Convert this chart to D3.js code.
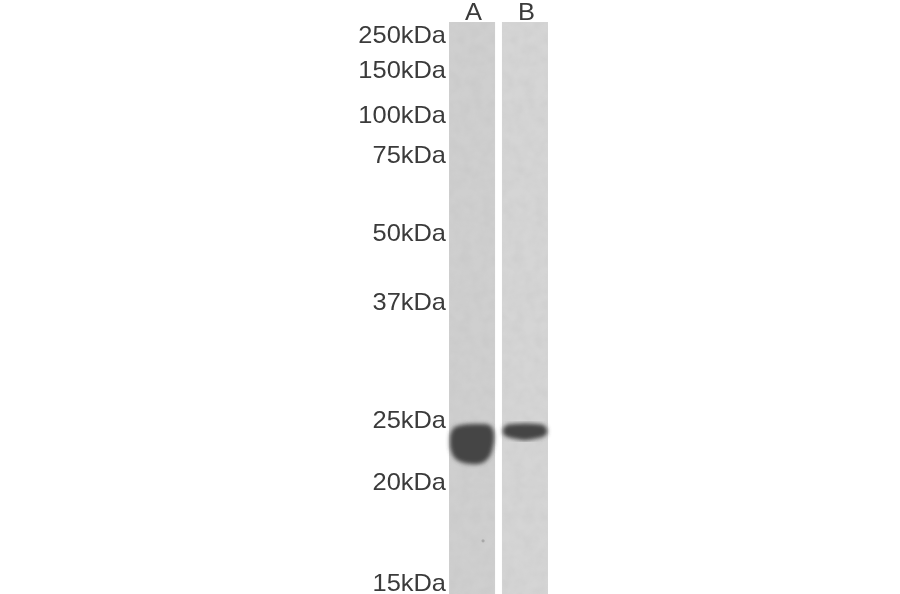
<!DOCTYPE html>
<html>
<head>
<meta charset="utf-8">
<script src="https://cdn.jsdelivr.net/npm/d3@7"></script>
<style>
  html, body { margin: 0; padding: 0; background: #fff; }
  svg { display: block; }
  text { font-family: "Liberation Sans", Arial, sans-serif; fill: #3a3a3a; }
</style>
</head>
<body>
<div id="chart"></div>
<script>
const lanes = ['A', 'B'];
const markerLabels = ['250kDa', '150kDa', '100kDa', '75kDa', '50kDa', '37kDa', '25kDa', '20kDa', '15kDa'];
// migration, 0 = top of gel, 1 = bottom of picture
const markerMigration = [0.023, 0.084, 0.162, 0.232, 0.369, 0.489, 0.696, 0.804, 0.981];

// band outlines: position across the lane, upper and lower migration edge
const bandAcross = [0.02, 0.1, 0.25, 0.5, 0.75, 0.9, 0.98];
const bandATop = [0.724, 0.71, 0.705, 0.703, 0.703, 0.706, 0.718];
const bandABottom = [0.742, 0.76, 0.769, 0.773, 0.77, 0.757, 0.732];
const bandBTop = [0.711, 0.705, 0.703, 0.702, 0.703, 0.705, 0.711];
const bandBBottom = [0.72, 0.725, 0.728, 0.731, 0.728, 0.725, 0.72];

const width = 900;
const height = 594;

const svg = d3.select('#chart').append('svg')
  .attr('width', width)
  .attr('height', height);

const defs = svg.append('defs');
defs.append('filter').attr('id', 'soft').append('feGaussianBlur').attr('stdDeviation', 2.2);
defs.append('filter').attr('id', 'edge').append('feGaussianBlur').attr('stdDeviation', 0.5);
defs.append('filter').attr('id', 'textsoft').append('feGaussianBlur').attr('stdDeviation', 0.4);

// mottled gel background
const grain = defs.append('filter').attr('id', 'grain')
  .attr('x', 0).attr('y', 0).attr('width', 1).attr('height', 1);
grain.append('feTurbulence')
  .attr('type', 'fractalNoise')
  .attr('baseFrequency', 0.09)
  .attr('numOctaves', 2)
  .attr('seed', 4);
grain.append('feColorMatrix')
  .attr('values', '0 0 0 0 0.45  0 0 0 0 0.45  0 0 0 0 0.45  0.3 0 0 0 -0.09');
grain.append('feComposite').attr('in2', 'SourceGraphic').attr('operator', 'in');

const x = d3.scaleBand().domain(lanes).range([449, 548]).paddingInner(0.13).paddingOuter(0);
const y = d3.scaleLinear().domain([0, 1]).range([22, 594]);
const across = d3.scaleLinear().domain([0, 1]).range([0, x.bandwidth()]);

const laneColor = { A: '#cfcfcf', B: '#d5d5d5' };

const laneG = svg.append('g').selectAll('g').data(lanes).join('g')
  .attr('transform', d => `translate(${x(d)},0)`);

laneG.append('rect')
  .attr('x', 0)
  .attr('y', y(0))
  .attr('width', x.bandwidth())
  .attr('height', y(1) - y(0) + 4)
  .attr('fill', d => laneColor[d])
  .attr('filter', 'url(#edge)');

laneG.append('rect')
  .attr('x', 0.5)
  .attr('y', y(0) + 0.5)
  .attr('width', x.bandwidth() - 1)
  .attr('height', y(1) - y(0))
  .attr('fill', '#000')
  .attr('filter', 'url(#grain)');

const bandArea = d3.area()
  .x(d => across(d.at))
  .y0(d => y(d.top))
  .y1(d => y(d.bottom))
  .curve(d3.curveCatmullRom);

const bands = {
  A: bandAcross.map((at, i) => ({ at, top: bandATop[i], bottom: bandABottom[i] })),
  B: bandAcross.map((at, i) => ({ at, top: bandBTop[i], bottom: bandBBottom[i] }))
};

laneG.append('path')
  .attr('d', d => bandArea(bands[d]))
  .attr('fill', '#444')
  .attr('filter', 'url(#soft)');

// faint speck low in lane A
svg.append('circle')
  .attr('cx', x('A') + across(0.74))
  .attr('cy', y(0.907))
  .attr('r', 1.6)
  .attr('fill', '#a8a8a8')
  .attr('filter', 'url(#edge)');

const yAxis = d3.axisLeft(y)
  .tickValues(markerMigration)
  .tickFormat((d, i) => markerLabels[i])
  .tickSize(0)
  .tickPadding(0);

const axisG = svg.append('g')
  .attr('transform', 'translate(446,0)')
  .call(yAxis);
axisG.select('.domain').remove();
axisG.selectAll('text')
  .attr('font-size', 24)
  .attr('font-family', null)
  .attr('transform', 'scale(1.06,1)')
  .attr('filter', 'url(#textsoft)');

svg.append('g').selectAll('text').data(lanes).join('text')
  .attr('transform', d => `translate(${x(d) + x.bandwidth() / 2 + 1.5},20) scale(1.06,1)`)
  .attr('text-anchor', 'middle')
  .attr('font-size', 24)
  .attr('filter', 'url(#textsoft)')
  .text(d => d);
</script>
</body>
</html>
